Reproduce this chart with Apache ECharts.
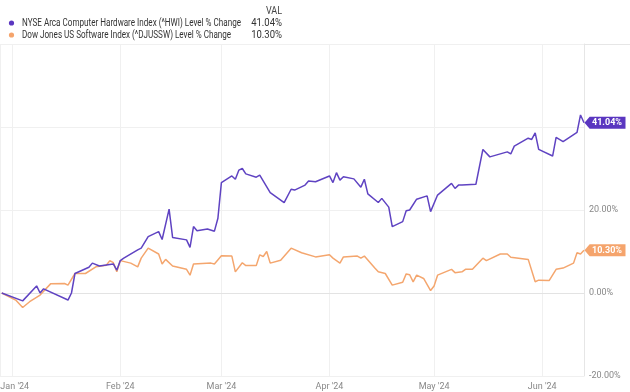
<!DOCTYPE html>
<html>
<head>
<meta charset="utf-8">
<script src="https://cdn.jsdelivr.net/npm/echarts@6/dist/echarts.min.js"></script>
<style>
html,body{margin:0;padding:0;background:#fff;}
#chart{width:630px;height:392px;}
</style>
</head>
<body>
<div id="chart"></div>
<script>
const seriesNames = [
  "NYSE Arca Computer Hardware Index (^HWI) Level % Change",
  "Dow Jones US Software Index (^DJUSSW) Level % Change"
];
const monthLabels = ["Jan '24","Feb '24","Mar '24","Apr '24","May '24","Jun '24"];
const yTickLabels = {"-20":"-20.00%","0":"0.00%","20":"20.00%"};

const hwDates = ["2023-12-29","2024-01-04","2024-01-08","2024-01-09","2024-01-10","2024-01-17","2024-01-18","2024-01-19","2024-01-23","2024-01-24","2024-01-26","2024-01-30","2024-01-31","2024-02-01","2024-02-02","2024-02-06","2024-02-07","2024-02-09","2024-02-12","2024-02-13","2024-02-15","2024-02-16","2024-02-20","2024-02-21","2024-02-22","2024-02-23","2024-02-26","2024-02-28","2024-02-29","2024-03-01","2024-03-04","2024-03-05","2024-03-06","2024-03-07","2024-03-08","2024-03-11","2024-03-12","2024-03-15","2024-03-19","2024-03-21","2024-03-22","2024-03-25","2024-03-26","2024-03-28","2024-04-01","2024-04-02","2024-04-03","2024-04-04","2024-04-05","2024-04-08","2024-04-10","2024-04-11","2024-04-12","2024-04-15","2024-04-16","2024-04-18","2024-04-19","2024-04-22","2024-04-23","2024-04-24","2024-04-26","2024-04-29","2024-04-30","2024-05-02","2024-05-06","2024-05-07","2024-05-08","2024-05-09","2024-05-13","2024-05-15","2024-05-17","2024-05-22","2024-05-23","2024-05-24","2024-05-28","2024-05-29","2024-05-30","2024-05-31","2024-06-04","2024-06-05","2024-06-07","2024-06-11","2024-06-12","2024-06-13"];
const hwValues = [0,-1.9,1.7,0,1.0,-1.7,0,4.7,6.2,7.2,6.5,7.0,5.5,7.8,8.4,10.4,10.8,13.6,14.8,12.9,20.2,13.4,12.8,11.0,16.0,15.0,15.4,14.9,18.0,26.6,28.2,27.4,29.6,30.0,28.7,27.9,28.4,24.2,21.8,25.0,24.8,26.0,27.0,26.8,28.2,26.6,29.0,27.2,28.0,27.5,25.5,27.4,23.9,21.8,22.8,20.7,16.0,17.2,19.8,20.0,22.6,23.4,19.6,23.6,26.4,25.2,26.0,26.0,26.2,34.6,32.8,34.0,33.5,35.4,37.3,37.0,38.6,34.6,33.0,37.5,36.5,38.7,42.9,41.04];

const swDates = ["2023-12-29","2024-01-02","2024-01-04","2024-01-06","2024-01-09","2024-01-12","2024-01-16","2024-01-17","2024-01-19","2024-01-22","2024-01-25","2024-01-28","2024-01-29","2024-01-30","2024-01-31","2024-02-01","2024-02-04","2024-02-06","2024-02-07","2024-02-09","2024-02-12","2024-02-13","2024-02-14","2024-02-16","2024-02-20","2024-02-21","2024-02-22","2024-02-27","2024-02-28","2024-03-01","2024-03-04","2024-03-05","2024-03-07","2024-03-08","2024-03-11","2024-03-12","2024-03-13","2024-03-14","2024-03-15","2024-03-18","2024-03-21","2024-03-24","2024-03-28","2024-04-01","2024-04-02","2024-04-04","2024-04-05","2024-04-09","2024-04-10","2024-04-11","2024-04-14","2024-04-15","2024-04-17","2024-04-19","2024-04-22","2024-04-23","2024-04-24","2024-04-25","2024-04-26","2024-04-28","2024-04-30","2024-05-01","2024-05-02","2024-05-06","2024-05-07","2024-05-09","2024-05-10","2024-05-12","2024-05-15","2024-05-16","2024-05-20","2024-05-22","2024-05-23","2024-05-28","2024-05-30","2024-05-31","2024-06-03","2024-06-05","2024-06-07","2024-06-10","2024-06-11","2024-06-12","2024-06-13"];
const swValues = [0,-1.7,-3.5,-2.1,-0.5,2.2,2.3,1.9,4.7,4.7,6.3,6.7,7.8,7.3,5.1,7.8,7.2,6.3,8.4,10.8,9.4,7.0,8.1,6.5,5.7,4.3,7.0,7.2,7.0,9.0,8.9,5.1,7.3,6.6,6.6,9.2,8.8,10.0,7.2,7.9,10.8,9.7,8.7,9.2,8.4,7.2,8.7,8.9,8.4,8.9,6.0,5.1,4.7,1.9,2.6,4.6,4.4,2.7,4.3,3.5,0.6,1.7,4.3,5.7,4.9,5.1,5.7,5.7,8.4,7.8,9.4,9.4,8.6,8.1,2.7,3.1,3.0,5.7,6.0,7.2,9.7,9.4,10.30];

const colors = ['#5f43c2', '#f4a66e'];
const dotColors = ['#5a36c0', '#f5a46c'];
const FONT = "Roboto, 'Liberation Sans', sans-serif";

function pairs(d, v) { return d.map((x, i) => [x, v[i]]); }
function tag(color, d, v) {
  const n = d.length - 1;
  return {
    symbol: 'path://M0,6 L5,0 L40,0 L40,12 L5,12 Z',
    symbolSize: [41, 12],
    symbolOffset: [21, 0],
    symbolKeepAspect: false,
    itemStyle: { color: color },
    label: {
      show: true, position: 'inside', offset: [2, 0],
      color: '#fff', fontSize: 9, fontWeight: 'bold', fontFamily: FONT,
      formatter: p => p.value.toFixed(2) + '%'
    },
    data: [{ coord: [d[n], v[n]], value: v[n] }],
    silent: true, animation: false
  };
}

const hwLast = hwValues[hwValues.length - 1];
const swLast = swValues[swValues.length - 1];
const lastVals = [hwLast, swLast];

const legendGraphics = [];
const rowY = [23, 35];
seriesNames.forEach((name, i) => {
  legendGraphics.push({ type: 'circle', shape: { cx: 11.5, cy: rowY[i], r: 2.6 }, style: { fill: dotColors[i] } });
  legendGraphics.push({ type: 'text', x: 22, y: rowY[i], scaleX: 0.81,
    style: { x: 0, y: 0, text: name, fontSize: 10, fill: '#333', fontFamily: FONT, verticalAlign: 'middle' } });
  legendGraphics.push({ type: 'text', x: 282, y: rowY[i], scaleX: 0.95,
    style: { x: 0, y: 0, text: lastVals[i].toFixed(2) + '%', fontSize: 10, fill: '#333', fontFamily: FONT, align: 'right', verticalAlign: 'middle' } });
});
legendGraphics.push({ type: 'text', x: 282, y: 11, scaleX: 0.9,
  style: { x: 0, y: 0, text: 'VAL', fontSize: 10, fill: '#444', fontFamily: FONT, align: 'right', verticalAlign: 'middle' } });
legendGraphics.push({ type: 'line', shape: { x1: 0, y1: 44.5, x2: 630, y2: 44.5 }, style: { stroke: '#e6e6e6', lineWidth: 1 } });

const chart = echarts.init(document.getElementById('chart'), null, { renderer: 'canvas' });
chart.setOption({
  animation: false,
  color: colors,
  textStyle: { fontFamily: FONT },
  grid: { left: 0, right: 46, top: 44, bottom: 16, containLabel: false, outerBoundsMode: 'none' },
  graphic: legendGraphics,
  xAxis: {
    type: 'time',
    min: new Date(2023, 11, 28, 12).getTime(),
    max: new Date(2024, 5, 13).getTime(),
    splitNumber: 6,
    minInterval: 28 * 86400000,
    axisLine: { show: true, lineStyle: { color: '#e3e3e3' } },
    axisTick: { show: false },
    splitLine: { show: true, lineStyle: { color: '#f0f0f0' } },
    axisLabel: {
      color: '#888', fontSize: 9, margin: 6, fontFamily: FONT, hideOverlap: false,
      rich: { first: { color: '#888', fontSize: 9, fontFamily: FONT, padding: [0, 0, 0, 5] } },
      formatter: function (val) {
        const d = new Date(val);
        if (d.getDate() !== 1) return '';
        const m = d.getMonth();
        const s = monthLabels[m] || '';
        return m === 0 ? '{first|' + s + '}' : s;
      }
    }
  },
  yAxis: {
    type: 'value', position: 'right',
    min: -20, max: 60, interval: 20,
    axisLine: { show: true, lineStyle: { color: '#e6e6e6' } },
    axisTick: { show: false },
    splitLine: { show: true, lineStyle: { color: '#f0f0f0' } },
    axisLabel: {
      color: '#888', fontSize: 9, margin: 5, fontFamily: FONT,
      formatter: v => yTickLabels[String(v)] || ''
    }
  },
  series: [
    {
      name: seriesNames[0], type: 'line', showSymbol: false, symbol: 'none',
      lineStyle: { width: 1.5, color: colors[0] }, z: 3,
      data: pairs(hwDates, hwValues),
      markPoint: tag('#5a36c0', hwDates, hwValues)
    },
    {
      name: seriesNames[1], type: 'line', showSymbol: false, symbol: 'none',
      lineStyle: { width: 1.5, color: colors[1] }, z: 2,
      data: pairs(swDates, swValues),
      markPoint: tag('#f5a46c', swDates, swValues)
    }
  ]
});
</script>
</body>
</html>
